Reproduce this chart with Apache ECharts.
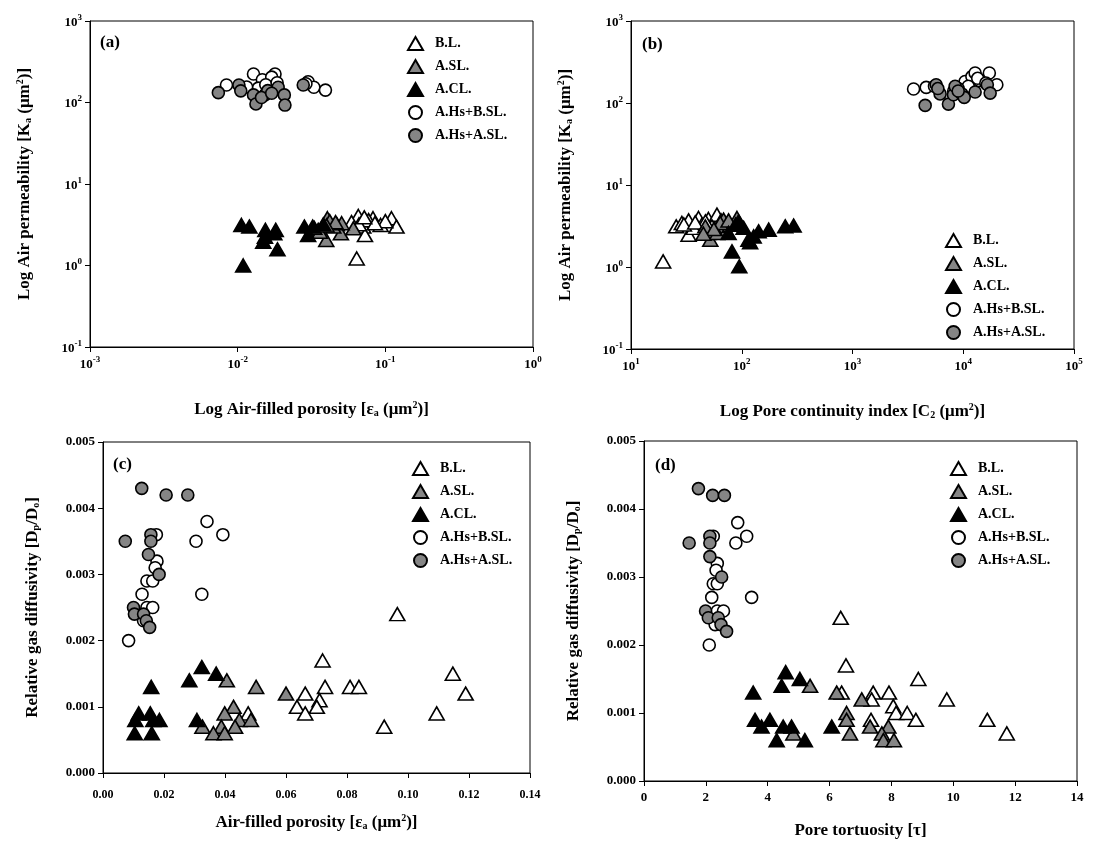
<!DOCTYPE html>
<html>
<head>
<meta charset="utf-8">
<script src="https://cdn.jsdelivr.net/npm/echarts@6/dist/echarts.min.js"></script>
<style>html,body{margin:0;padding:0;background:#fff}#c{width:1093px;height:845px}</style>
</head>
<body>
<div id="c"></div>
<script>
// ---------- DATA ----------
const seriesNames = ['B.L.', 'A.SL.', 'A.CL.', 'A.Hs+B.SL.', 'A.Hs+A.SL.'];
const panelLabels = ['(a)', '(b)', '(c)', '(d)'];
const logTicksA_X = [0.001, 0.01, 0.1, 1];
const logTicksB_X = [10, 100, 1000, 10000, 100000];
const logTicksY = [0.1, 1, 10, 100, 1000];
const ticksC_X = [0, 0.02, 0.04, 0.06, 0.08, 0.10, 0.12, 0.14];
const ticksD_X = [0, 2, 4, 6, 8, 10, 12, 14];
const ticksDiff_Y = [0, 0.001, 0.002, 0.003, 0.004, 0.005];

// Panel (a): air-filled porosity vs air permeability
const BL_a = [[0.0656,4.05],[0.0825,3.8],[0.110,3.8],[0.0709,3.0],[0.0929,3.14],[0.119,3.0],[0.0728,2.36],[0.064,1.22],[0.059,3.4],[0.077,3.6],[0.100,3.5],[0.0663,3.2],[0.085,3.3],[0.072,3.9],[0.047,3.2]];
const ASL_a = [[0.0405,3.8],[0.0398,2.06],[0.0500,2.48],[0.0607,2.86],[0.0444,3.0],[0.0506,3.3],[0.0351,2.73],[0.036,2.6],[0.042,3.5],[0.046,3.4],[0.033,2.9],[0.040,3.1]];
const ACL_a = [[0.0106,3.14],[0.0120,3.0],[0.0154,2.73],[0.0181,2.73],[0.0153,2.26],[0.0177,2.48],[0.0149,1.96],[0.0186,1.58],[0.0109,1.0],[0.0283,3.0],[0.0322,3.0],[0.0380,3.2],[0.030,2.36]];
const HsBSL_a = [[0.0084,164],[0.0128,224],[0.0179,224],[0.0163,189],[0.030,180],[0.0328,154],[0.0393,142],[0.0147,190],[0.0138,150],[0.0170,205],[0.0155,165],[0.0185,175],[0.0115,155],[0.0290,170]];
const HsASL_a = [[0.0074,132],[0.0102,164],[0.0105,139],[0.0128,124],[0.0133,96],[0.0153,124],[0.0188,154],[0.0207,124],[0.0209,93],[0.0278,164],[0.0160,140],[0.0145,115],[0.0170,130]];

// Panel (b): pore continuity index vs air permeability
const BL_b = [[19.5,1.17],[25.6,3.13],[33.1,3.7],[33.1,2.48],[28.8,3.44],[40.7,3.96],[43.7,3.28],[50,3.85],[59.7,4.35],[53.8,3.13],[36.7,3.0],[30,3.3],[47,3.6],[65,3.7],[38,3.5]];
const ASL_b = [[52,2.15],[50,2.6],[66,3.13],[60,2.6],[68.5,3.78],[46.9,3.13],[78.7,3.28],[90.5,3.96],[64,3.44],[76,3.7],[56,2.9],[45,2.55]];
const ACL_b = [[93.5,3.6],[104,3.0],[76,2.6],[81.6,1.55],[95,1.02],[115,2.15],[128,2.36],[142,2.72],[175,2.85],[247,3.13],[294,3.2],[119,2.0],[88,3.3]];
const HsBSL_b = [[3560,148],[4630,155],[10400,183],[11970,210],[12800,232],[17200,232],[20100,167],[11100,160],[14000,188],[9000,150],[5500,160],[13500,200],[16000,175],[8200,140]];
const HsASL_b = [[4530,93.5],[5690,167],[6180,129],[7350,97],[8160,126],[8450,160],[9710,129],[10200,117],[12800,136],[16500,167],[17500,132],[5900,150],[9000,140]];

// Panel (c): air-filled porosity vs relative gas diffusivity
const BL_c = [[0.0965,0.0024],[0.0720,0.0017],[0.1147,0.0015],[0.0728,0.0013],[0.0810,0.0013],[0.0839,0.0013],[0.0663,0.0012],[0.1189,0.0012],[0.0710,0.0011],[0.0636,0.0010],[0.0701,0.0010],[0.0663,0.0009],[0.1094,0.0009],[0.0476,0.0009],[0.0922,0.0007]];
const ASL_c = [[0.0406,0.0014],[0.0502,0.0013],[0.0600,0.0012],[0.0428,0.0010],[0.0399,0.0009],[0.0447,0.0008],[0.0485,0.0008],[0.0326,0.0007],[0.0388,0.0007],[0.0433,0.0007],[0.0362,0.0006],[0.0399,0.0006]];
const ACL_c = [[0.0324,0.0016],[0.0283,0.0014],[0.0371,0.0015],[0.0158,0.0013],[0.0117,0.0009],[0.0155,0.0009],[0.0106,0.0008],[0.0185,0.0008],[0.0308,0.0008],[0.0104,0.0006],[0.0160,0.0006],[0.0165,0.0008]];
const HsBSL_c = [[0.0341,0.0038],[0.0393,0.0036],[0.0305,0.0035],[0.0175,0.0036],[0.0177,0.0032],[0.0171,0.0031],[0.0144,0.0029],[0.0163,0.0029],[0.0128,0.0027],[0.0324,0.0027],[0.0144,0.0025],[0.0163,0.0025],[0.0133,0.0023],[0.0084,0.0020]];
const HsASL_c = [[0.0127,0.0043],[0.0207,0.0042],[0.0278,0.0042],[0.0073,0.0035],[0.0157,0.0036],[0.0157,0.0035],[0.0149,0.0033],[0.0184,0.0030],[0.0100,0.0025],[0.0103,0.0024],[0.0133,0.0024],[0.0142,0.0023],[0.0153,0.0022]];

// Panel (d): pore tortuosity vs relative gas diffusivity
const BL_d = [[6.36,0.0024],[6.53,0.0017],[8.87,0.0015],[6.39,0.0013],[7.41,0.0013],[7.92,0.0013],[7.36,0.0012],[9.79,0.0012],[8.06,0.0011],[8.15,0.0010],[8.51,0.0010],[7.34,0.0009],[8.79,0.0009],[11.1,0.0009],[11.73,0.0007]];
const ASL_d = [[5.37,0.0014],[6.23,0.0013],[7.04,0.0012],[6.55,0.0010],[6.55,0.0009],[4.83,0.0007],[6.66,0.0007],[7.31,0.0008],[7.90,0.0008],[7.69,0.0007],[7.74,0.0006],[8.08,0.0006]];
const ACL_d = [[3.53,0.0013],[3.59,0.0009],[3.80,0.0008],[4.07,0.0009],[4.29,0.0006],[4.45,0.0014],[4.58,0.0016],[4.50,0.0008],[4.77,0.0008],[5.04,0.0015],[5.20,0.0006],[6.07,0.0008]];
const HsBSL_d = [[3.03,0.0038],[3.32,0.0036],[2.97,0.0035],[2.24,0.0036],[2.37,0.0032],[2.33,0.0031],[2.24,0.0029],[2.37,0.0029],[2.19,0.0027],[3.48,0.0027],[2.37,0.0025],[2.57,0.0025],[2.30,0.0023],[2.11,0.0020]];
const HsASL_d = [[1.76,0.0043],[2.22,0.0042],[2.60,0.0042],[1.46,0.0035],[2.13,0.0036],[2.13,0.0035],[2.13,0.0033],[2.51,0.0030],[1.99,0.0025],[2.08,0.0024],[2.40,0.0024],[2.49,0.0023],[2.67,0.0022]];

// ---------- CHART ----------
const FONT = '"Liberation Serif", "Times New Roman", serif';
const GREY = '#858585';
const styles = [
  {symbol: 'triangle', size: [15, 13], color: '#ffffff'},
  {symbol: 'triangle', size: [15, 13], color: GREY},
  {symbol: 'triangle', size: [15, 13], color: '#000000'},
  {symbol: 'circle', size: 12, color: '#ffffff'},
  {symbol: 'circle', size: 12, color: GREY}
];
const panelData = [
  [BL_a, ASL_a, ACL_a, HsBSL_a, HsASL_a],
  [BL_b, ASL_b, ACL_b, HsBSL_b, HsASL_b],
  [BL_c, ASL_c, ACL_c, HsBSL_c, HsASL_c],
  [BL_d, ASL_d, ACL_d, HsBSL_d, HsASL_d]
];

const grids = [
  {left: 90, top: 21, width: 443, height: 326},
  {left: 631, top: 21, width: 443, height: 328},
  {left: 103, top: 442, width: 427, height: 331},
  {left: 644, top: 441, width: 433, height: 340}
].map(g => Object.assign(g, {show: true, borderColor: '#000', borderWidth: 1, backgroundColor: 'transparent'}));

const nameRich = {
  t: {fontFamily: FONT, fontWeight: 'bold', fontSize: 17, color: '#000', lineHeight: 18, verticalAlign: 'bottom'},
  sub: {fontFamily: FONT, fontWeight: 'bold', fontSize: 10, color: '#000', lineHeight: 8, verticalAlign: 'bottom'},
  sup: {fontFamily: FONT, fontWeight: 'bold', fontSize: 10, color: '#000', lineHeight: 8, verticalAlign: 'top'}
};
const logRich = {
  b: {fontFamily: FONT, fontWeight: 'bold', fontSize: 13, color: '#000', lineHeight: 16, verticalAlign: 'bottom'},
  s: {fontFamily: FONT, fontWeight: 'bold', fontSize: 9, color: '#000', lineHeight: 8, verticalAlign: 'top'}
};
const logFmt = v => '{b|10}{s|' + Math.round(Math.log10(v)) + '}';

function baseAxis(extra) {
  return Object.assign({
    axisLine: {show: true, lineStyle: {color: '#000', width: 1}},
    axisTick: {show: true, inside: false, length: 5, lineStyle: {color: '#000'}},
    splitLine: {show: false},
    minorTick: {show: false},
    nameLocation: 'middle',
    nameTextStyle: {rich: nameRich},
    axisLabel: {color: '#000', fontFamily: FONT, fontWeight: 'bold', fontSize: 13}
  }, extra);
}

const yPermName = '{t|Log Air permeability [K}{sub|a}{t| (μm}{sup|2}{t|)]}';
const yDiffName = '{t|Relative gas diffusivity [D}{sub|p}{t|/D}{sub|o}{t|]}';

const xAxes = [
  baseAxis({gridIndex: 0, type: 'log', logBase: 10, min: logTicksA_X[0], max: logTicksA_X[logTicksA_X.length-1], splitNumber: logTicksA_X.length-1,
    axisLabel: {formatter: logFmt, rich: logRich, margin: 8},
    name: '{t|Log Air-filled porosity [ε}{sub|a}{t| (μm}{sup|2}{t|)]}', nameGap: 53}),
  baseAxis({gridIndex: 1, type: 'log', logBase: 10, min: logTicksB_X[0], max: logTicksB_X[logTicksB_X.length-1], splitNumber: logTicksB_X.length-1,
    axisLabel: {formatter: logFmt, rich: logRich, margin: 8},
    name: '{t|Log Pore continuity index [C}{sub|2}{t| (μm}{sup|2}{t|)]}', nameGap: 53}),
  baseAxis({gridIndex: 2, type: 'value', min: ticksC_X[0], max: ticksC_X[ticksC_X.length-1], interval: 0.02,
    axisLabel: {formatter: v => v.toFixed(2), color: '#000', fontFamily: FONT, fontWeight: 'bold', fontSize: 12, margin: 16},
    name: '{t|Air-filled porosity [ε}{sub|a}{t| (μm}{sup|2}{t|)]}', nameGap: 40}),
  baseAxis({gridIndex: 3, type: 'value', min: ticksD_X[0], max: ticksD_X[ticksD_X.length-1], interval: 2,
    axisLabel: {formatter: v => String(Math.round(v)), color: '#000', fontFamily: FONT, fontWeight: 'bold', fontSize: 13, margin: 10},
    name: '{t|Pore tortuosity [τ]}', nameGap: 40})
];
const yAxes = [
  baseAxis({gridIndex: 0, type: 'log', logBase: 10, min: logTicksY[0], max: logTicksY[logTicksY.length-1], splitNumber: logTicksY.length-1,
    axisLabel: {formatter: logFmt, rich: logRich, margin: 8}, name: yPermName, nameGap: 57, nameRotate: 90}),
  baseAxis({gridIndex: 1, type: 'log', logBase: 10, min: logTicksY[0], max: logTicksY[logTicksY.length-1], splitNumber: logTicksY.length-1,
    axisLabel: {formatter: logFmt, rich: logRich, margin: 8}, name: yPermName, nameGap: 57, nameRotate: 90}),
  baseAxis({gridIndex: 2, type: 'value', min: ticksDiff_Y[0], max: ticksDiff_Y[ticksDiff_Y.length-1], interval: 0.001,
    axisLabel: {formatter: v => v.toFixed(3), color: '#000', fontFamily: FONT, fontWeight: 'bold', fontSize: 13, margin: 8},
    name: yDiffName, nameGap: 62, nameRotate: 90}),
  baseAxis({gridIndex: 3, type: 'value', min: ticksDiff_Y[0], max: ticksDiff_Y[ticksDiff_Y.length-1], interval: 0.001,
    axisLabel: {formatter: v => v.toFixed(3), color: '#000', fontFamily: FONT, fontWeight: 'bold', fontSize: 13, margin: 8},
    name: yDiffName, nameGap: 62, nameRotate: 90})
];

const series = [];
panelData.forEach((sets, p) => {
  sets.forEach((data, i) => {
    const st = styles[i];
    series.push({
      type: 'scatter', name: seriesNames[i], xAxisIndex: p, yAxisIndex: p,
      data: data, symbol: st.symbol, symbolSize: st.size,
      itemStyle: {color: st.color, borderColor: '#000', borderWidth: 1.6, opacity: 1},
      emphasis: {disabled: true}, animation: false
    });
  });
});

const legendPos = [
  {left: 402, top: 31},
  {left: 940, top: 228},
  {left: 407, top: 456},
  {left: 945, top: 456}
];
const legends = legendPos.map(pos => Object.assign({
  orient: 'vertical', data: seriesNames, selectedMode: false,
  itemWidth: 15, itemHeight: 13, itemGap: 8,
  textStyle: {fontFamily: FONT, fontWeight: 'bold', fontSize: 14, color: '#000', padding: [0, 0, 0, 7]}
}, pos));

const labelPos = [[100, 34], [642, 36], [113, 456], [655, 457]];
const graphics = labelPos.map((pt, i) => ({
  type: 'text', left: pt[0], top: pt[1],
  style: {text: panelLabels[i], fontFamily: FONT, fontWeight: 'bold', fontSize: 17, fill: '#000'}
}));

const chart = echarts.init(document.getElementById('c'), null, {renderer: 'canvas'});
chart.setOption({
  animation: false,
  backgroundColor: '#fff',
  grid: grids,
  xAxis: xAxes,
  yAxis: yAxes,
  legend: legends,
  graphic: graphics,
  series: series
});
</script>
</body>
</html>
